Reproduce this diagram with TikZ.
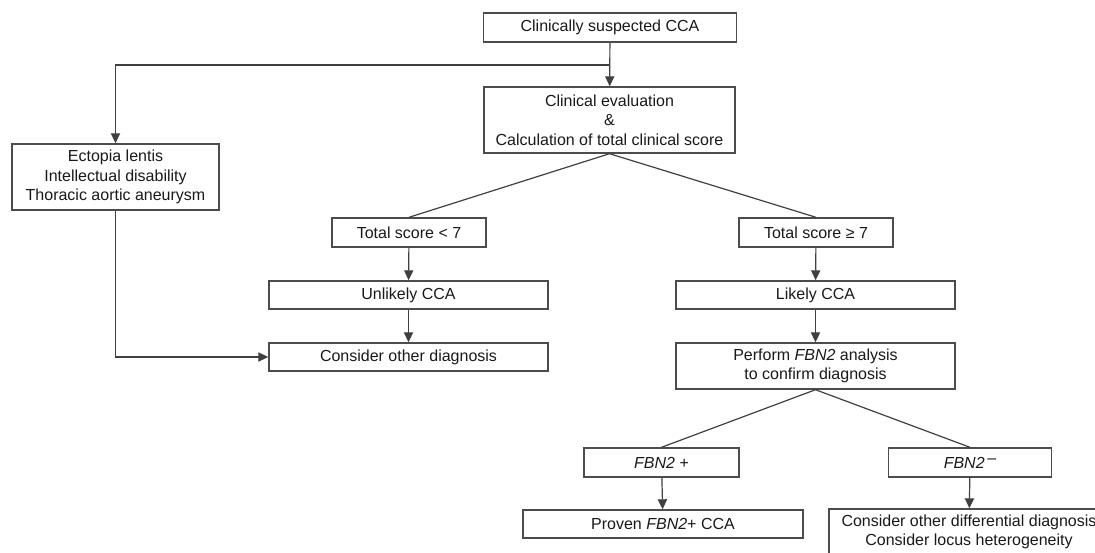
\documentclass[tikz,border=0pt]{standalone}
\usepackage{fontspec}
\setmainfont{Liberation Sans}
\usetikzlibrary{arrows.meta}

\begin{document}
\begin{tikzpicture}[x=0.5pt, y=-0.5pt, >={Triangle[length=5pt, width=4.6pt]},
  box/.style={draw=black!70, line width=0.7pt, rectangle, inner sep=0pt,
    minimum height=14.5pt, align=center, text=black!90,
    font=\fontsize{8}{9.8}\selectfont},
  link/.style={draw=black!75, line width=0.6pt}]
  \newcommand*{\Fbn}{\textit{FBN2}}
  \useasboundingbox (0,0) rectangle (1095,552);
  \clip (0,0) rectangle (1095,552);
  % boxes
  \node[box, minimum width=126.5pt] (suspect) at (610,27.5) {Clinically suspected CCA};
  \node[box, minimum width=125.5pt, minimum height=33pt] (evalbox) at (609.5,120)
    {Clinical evaluation\\\&\\Calculation of total clinical score};
  \node[box, minimum width=103.5pt, minimum height=33pt] (ectopia) at (115.5,177)
    {Ectopia lentis\\Intellectual disability\\Thoracic aortic aneurysm};
  \node[box, minimum width=77pt] (low) at (409,232.5) {Total score < 7};
  \node[box, minimum width=77pt] (high) at (816,232.5) {Total score ≥ 7};
  \node[box, minimum width=139.5pt, minimum height=14pt] (unlikely) at (408.5,295) {Unlikely CCA};
  \node[box, minimum width=139.5pt, minimum height=14pt] (other) at (408.5,357) {Consider other diagnosis};
  \node[box, minimum width=139.5pt, minimum height=14pt] (likely) at (815.5,295) {Likely CCA};
  \node[box, minimum width=139.5pt, minimum height=23pt] (perform) at (815.5,366)
    {Perform \Fbn{} analysis\\to confirm diagnosis};
  \node[box, minimum width=77.5pt] (pos) at (661.5,462.5) {\textit{FBN2 +}};
  \node[box, minimum width=81.5pt] (neg) at (970,462.5) {\Fbn\,\raisebox{0.28em}{–}};
  \node[box, minimum width=140pt, minimum height=14pt] (proven) at (663,524) {Proven \Fbn+ CCA};
  \node[box, minimum width=140pt, minimum height=23pt] (diff) at (969,532)
    {Consider other differential diagnosis\\Consider locus heterogeneity};
  % connectors
  \coordinate (fork) at (suspect.south |- 0,65);
  \draw[link, ->] (suspect) -- (evalbox);
  \draw[link, ->] (fork) -| (ectopia);
  \draw[link, ->] (ectopia) |- (other);
  \draw[link] (evalbox.south) -- (low.north);
  \draw[link] (evalbox.south) -- (high.north);
  \draw[link, ->] (low) -- (unlikely);
  \draw[link, ->] (unlikely) -- (other);
  \draw[link, ->] (high) -- (likely);
  \draw[link, ->] (likely) -- (perform);
  \draw[link] (perform.south) -- (pos.north);
  \draw[link] (perform.south) -- (neg.north);
  \draw[link, ->] (pos) -- (proven);
  \draw[link, ->] (neg) -- (diff);
\end{tikzpicture}
\end{document}
